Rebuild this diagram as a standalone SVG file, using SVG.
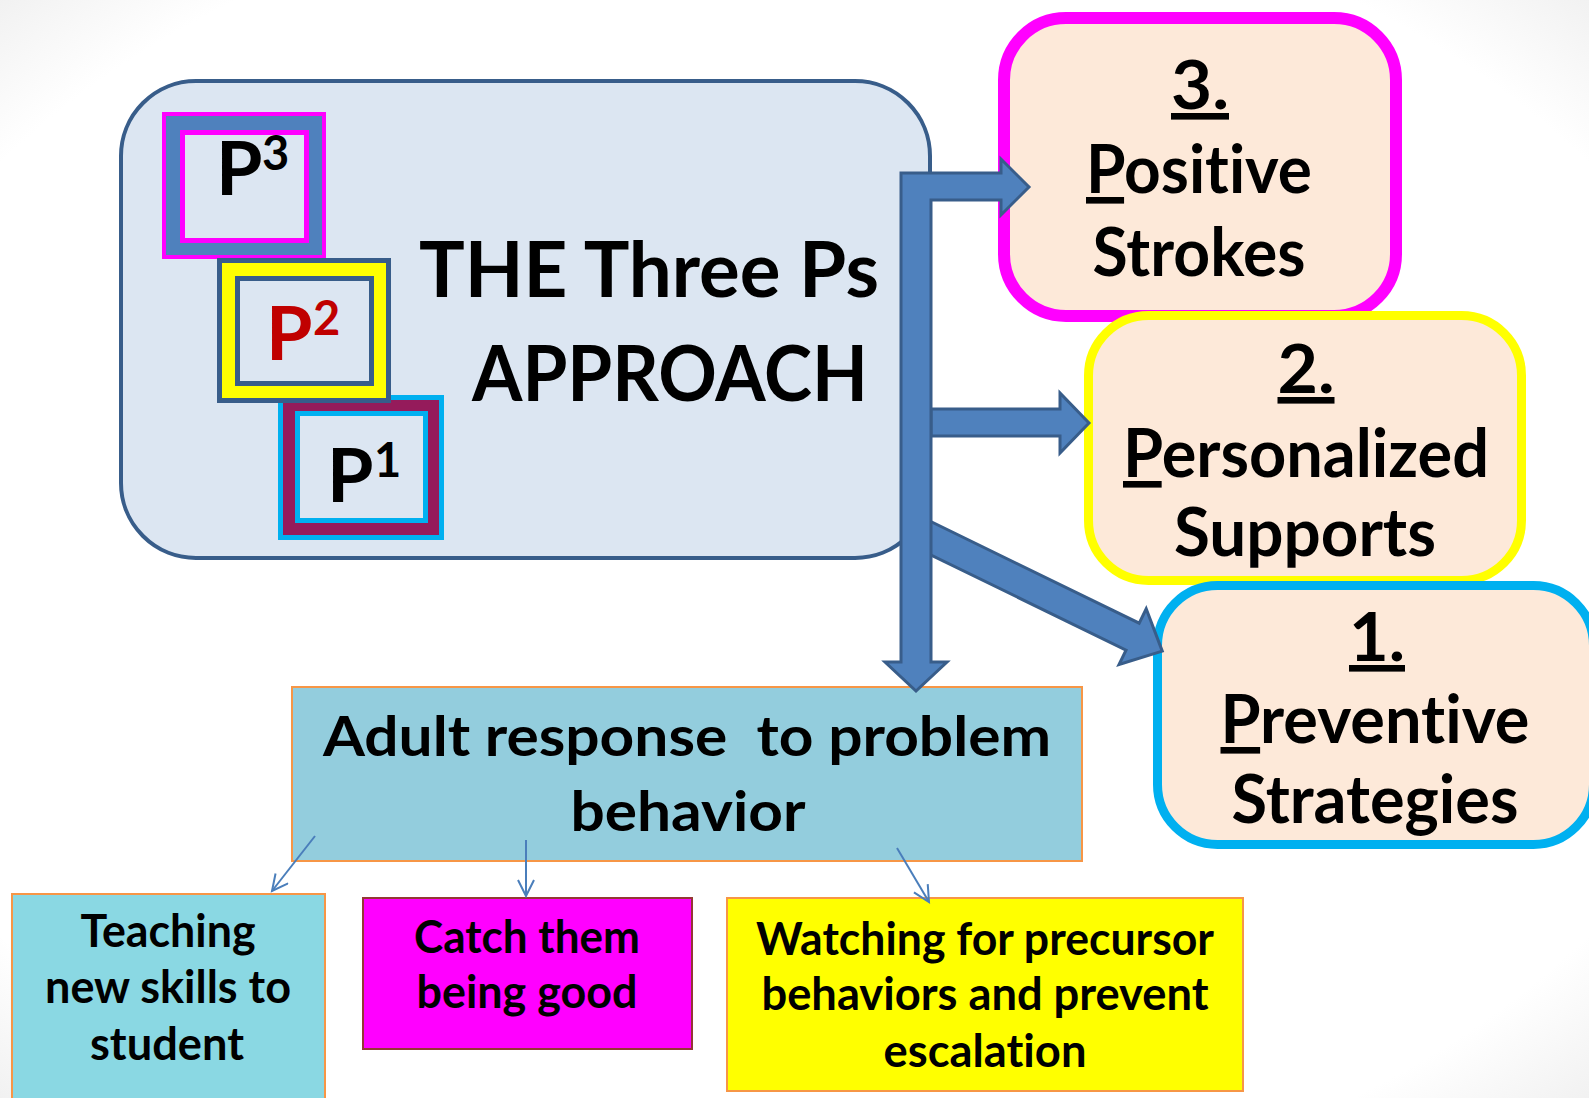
<svg xmlns="http://www.w3.org/2000/svg" width="1589" height="1098" viewBox="0 0 1589 1098">
  <defs>
    <style>
      text { font-family: Lato, "Liberation Sans", sans-serif; font-weight: bold; fill: #000; font-variant-ligatures: none; font-feature-settings: "liga" 0, "clig" 0; }
      .title { font-size: 77px; }
      .pbig { font-size: 75px; }
      .psup { font-size: 47px; }
      .step { font-size: 66px; text-anchor: middle; }
      .adult { font-size: 56px; text-anchor: middle; }
      .small { font-size: 46px; text-anchor: middle; }
      .ul { text-decoration: underline; }
      .block { fill: #4f81bd; stroke: #385d8a; stroke-width: 3; stroke-linejoin: miter; }
      .thin { fill: none; stroke: #4a7ebb; stroke-width: 2; }
      .stepbox { fill: #fde9d9; }
    </style>
    <radialGradient id="page-shade" cx="0.5" cy="0.5" r="0.71">
      <stop offset="0.86" stop-color="#ffffff"/>
      <stop offset="1" stop-color="#f1f1f1"/>
    </radialGradient>
    <marker id="open-head" markerUnits="userSpaceOnUse" markerWidth="24" markerHeight="24" refX="18" refY="9" orient="auto">
      <path d="M2,1 L18,9 L2,17" fill="none" stroke="#4a7ebb" stroke-width="2"/>
    </marker>
  </defs>

  <rect width="1589" height="1098" fill="url(#page-shade)"/>

  <!-- Main approach panel -->
  <g id="approach">
    <rect x="121" y="81" width="809" height="477" rx="75" ry="75" fill="#dce6f2" stroke="#385d8a" stroke-width="4"/>
    <g id="p3">
      <rect x="164" y="114" width="160" height="143" fill="#4f81bd" stroke="#ff00ff" stroke-width="4"/>
      <rect x="182.5" y="132.5" width="124" height="108" fill="#dce6f2" stroke="#ff00ff" stroke-width="5"/>
      <text class="pbig" x="216" y="195">P<tspan class="psup" x="262" y="170">3</tspan></text>
    </g>
    <g id="p1">
      <rect x="280.5" y="397.5" width="161" height="140" fill="#951b5b" stroke="#00b0f0" stroke-width="5"/>
      <rect x="297.5" y="413.5" width="128" height="107" fill="#dce6f2" stroke="#00b0f0" stroke-width="5"/>
      <text class="pbig" x="327" y="502">P<tspan class="psup" x="374" y="477">1</tspan></text>
    </g>
    <g id="p2">
      <rect x="219.5" y="260.5" width="169" height="140" fill="#ffff00" stroke="#385d8a" stroke-width="5"/>
      <rect x="237.5" y="278.5" width="134" height="105" fill="#dce6f2" stroke="#385d8a" stroke-width="5"/>
      <text class="pbig" x="266" y="360" style="fill:#c00000">P<tspan class="psup" x="313" y="335" style="fill:#c00000">2</tspan></text>
    </g>
    <text class="title" x="419" y="297" textLength="460" lengthAdjust="spacingAndGlyphs">THE Three Ps</text>
    <text class="title" x="472" y="401" textLength="396" lengthAdjust="spacingAndGlyphs">APPROACH</text>
  </g>

  <!-- Step boxes -->
  <g id="step3">
    <rect class="stepbox" x="1004" y="18" width="392" height="298" rx="62" ry="62" stroke="#ff00ff" stroke-width="12"/>
    <text class="step ul" x="1200" y="109" textLength="58" lengthAdjust="spacingAndGlyphs">3.</text>
    <text class="step" x="1199" y="193" textLength="226" lengthAdjust="spacingAndGlyphs"><tspan class="ul">P</tspan>ositive</text>
    <text class="step" x="1199" y="276" textLength="213" lengthAdjust="spacingAndGlyphs">Strokes</text>
  </g>
  <g id="step2">
    <rect class="stepbox" x="1088.5" y="315.5" width="433" height="265" rx="60" ry="60" stroke="#ffff00" stroke-width="9"/>
    <text class="step ul" x="1306" y="393" textLength="57" lengthAdjust="spacingAndGlyphs">2.</text>
    <text class="step" x="1306" y="477" textLength="366" lengthAdjust="spacingAndGlyphs"><tspan class="ul">P</tspan>ersonalized</text>
    <text class="step" x="1305" y="556" textLength="262" lengthAdjust="spacingAndGlyphs">Supports</text>
  </g>
  <g id="step1">
    <rect class="stepbox" x="1157.5" y="585.5" width="436" height="259" rx="60" ry="60" stroke="#00b0f0" stroke-width="9"/>
    <text class="step ul" x="1377" y="661" textLength="56" lengthAdjust="spacingAndGlyphs">1.</text>
    <text class="step" x="1375" y="743" textLength="309" lengthAdjust="spacingAndGlyphs"><tspan class="ul">P</tspan>reventive</text>
    <text class="step" x="1375" y="823" textLength="287" lengthAdjust="spacingAndGlyphs">Strategies</text>
  </g>

  <!-- Adult response box -->
  <g id="adult">
    <rect x="292" y="687" width="790" height="174" fill="#93cddd" stroke="#f79646" stroke-width="2"/>
    <text class="adult" x="687" y="756" textLength="728" lengthAdjust="spacingAndGlyphs" xml:space="preserve">Adult response  to problem</text>
    <text class="adult" x="688" y="831" textLength="235" lengthAdjust="spacingAndGlyphs">behavior</text>
  </g>

  <!-- Response options -->
  <g id="teaching">
    <rect x="12" y="894" width="313" height="215" fill="#8ad8e3" stroke="#f79646" stroke-width="2"/>
    <text class="small" x="168" y="947" textLength="175" lengthAdjust="spacingAndGlyphs">Teaching</text>
    <text class="small" x="168" y="1003" textLength="246" lengthAdjust="spacingAndGlyphs">new skills to</text>
    <text class="small" x="167" y="1060" textLength="154" lengthAdjust="spacingAndGlyphs">student</text>
  </g>
  <g id="catch">
    <rect x="363" y="898" width="329" height="151" fill="#ff00ff" stroke="#953735" stroke-width="2"/>
    <text class="small" x="527" y="953" textLength="226" lengthAdjust="spacingAndGlyphs">Catch them</text>
    <text class="small" x="527" y="1008" textLength="221" lengthAdjust="spacingAndGlyphs">being good</text>
  </g>
  <g id="watching">
    <rect x="727" y="898" width="516" height="193" fill="#ffff00" stroke="#f79646" stroke-width="2"/>
    <text class="small" x="985" y="955" textLength="458" lengthAdjust="spacingAndGlyphs">Watching for precursor</text>
    <text class="small" x="985" y="1010" textLength="447" lengthAdjust="spacingAndGlyphs">behaviors and prevent</text>
    <text class="small" x="985" y="1067" textLength="203" lengthAdjust="spacingAndGlyphs">escalation</text>
  </g>

  <!-- Connectors -->
  <g id="connectors">
    <!-- diagonal block arrow to step 1 -->
    <polygon class="block" transform="translate(916,531) rotate(26)" points="0,-15 241,-15 241,-31 274,0 241,31 241,15 0,15"/>
    <!-- block arrow to step 2 -->
    <polygon class="block" points="931,409 1060,409 1060,393 1089,423 1060,453 1060,436 931,436"/>
    <!-- trunk with branch to step 3 and down to the adult response -->
    <path class="block" d="M901,173 L1001,173 L1001,159 L1029,187 L1001,215 L1001,200 L931,200 L931,662 L947,662 L916,691 L885,662 L901,662 Z"/>
    <!-- thin arrows to the response options -->
    <line class="thin" x1="315" y1="836" x2="272" y2="891" marker-end="url(#open-head)"/>
    <line class="thin" x1="526" y1="840" x2="526" y2="896" marker-end="url(#open-head)"/>
    <line class="thin" x1="897" y1="848" x2="929" y2="902" marker-end="url(#open-head)"/>
  </g>
</svg>
